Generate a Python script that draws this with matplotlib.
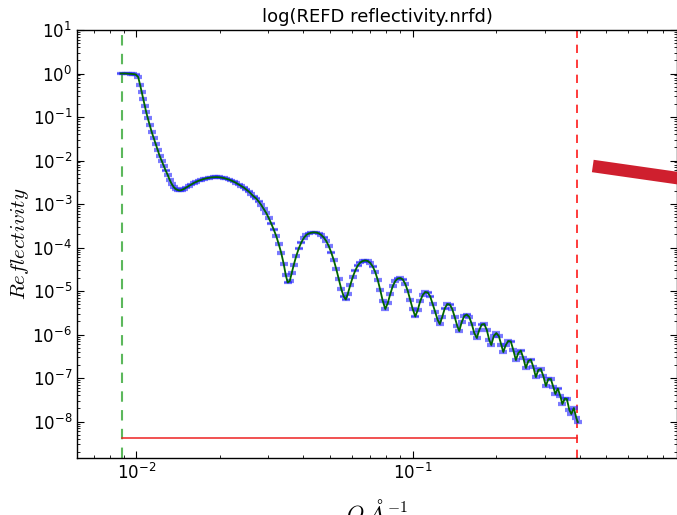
import matplotlib
matplotlib.use('Agg')
import matplotlib.pyplot as plt
from matplotlib.ticker import LogLocator
import numpy as np

# ---- data ----
q = [0.008774, 0.00896, 0.00915, 0.00934, 0.00954, 0.00974, 0.00994, 0.01015, 0.01032, 0.01045,
     0.01058, 0.01072, 0.01085, 0.01099, 0.01117, 0.01136, 0.01155, 0.01174, 0.01194, 0.01214,
     0.01235, 0.01255, 0.01276, 0.01298, 0.01320, 0.01342, 0.01364, 0.01387, 0.01411, 0.01434,
     0.01458, 0.01483, 0.01514, 0.01546, 0.01578, 0.01612, 0.01646, 0.01680, 0.01716, 0.01752,
     0.01788, 0.01826, 0.01864, 0.01904, 0.01944, 0.01984, 0.02026, 0.02069, 0.02112, 0.02157,
     0.02202, 0.02248, 0.02296, 0.02344, 0.02393, 0.02444, 0.02495, 0.02547, 0.02601, 0.02656,
     0.02711, 0.02768, 0.02827, 0.02886, 0.02947, 0.03009, 0.03072, 0.03137, 0.03202, 0.03270,
     0.03339, 0.03409, 0.03466, 0.03524, 0.03584, 0.03644, 0.03705, 0.03783, 0.03863, 0.03944,
     0.04027, 0.04111, 0.04198, 0.04286, 0.04376, 0.04468, 0.04562, 0.04658, 0.04756, 0.04856,
     0.04959, 0.05063, 0.05169, 0.05278, 0.05389, 0.05503, 0.05618, 0.05713, 0.05809, 0.05931,
     0.06056, 0.06183, 0.06313, 0.06446, 0.06581, 0.06720, 0.06861, 0.07006, 0.07153, 0.07303,
     0.07457, 0.07614, 0.07774, 0.07938, 0.08105, 0.08275, 0.08449, 0.08627, 0.08808, 0.08994,
     0.09183, 0.09376, 0.09573, 0.09774, 0.09975, 0.1019, 0.1040, 0.1062, 0.1084, 0.1107,
     0.1130, 0.1154, 0.1178, 0.1203, 0.1228, 0.1249, 0.1275, 0.1302, 0.1330, 0.1358,
     0.1386, 0.1415, 0.1445, 0.1469, 0.1500, 0.1532, 0.1564, 0.1597, 0.1631, 0.1665,
     0.1700, 0.1736, 0.1772, 0.1809, 0.1848, 0.1886, 0.1918, 0.1959, 0.2000, 0.2042,
     0.2085, 0.2120, 0.2164, 0.2210, 0.2257, 0.2304, 0.2353, 0.2402, 0.2453, 0.2504,
     0.2557, 0.2611, 0.2666, 0.2722, 0.2779, 0.2838, 0.2897, 0.2958, 0.3021, 0.3084,
     0.3149, 0.3215, 0.3269, 0.3338, 0.3408, 0.3466, 0.3539, 0.3598, 0.3674, 0.3735,
     0.3814, 0.3894, 0.3940]

r = [1.0, 1.0, 1.0, 0.99, 0.98, 0.97, 0.95, 0.83, 0.54, 0.376,
     0.26, 0.179, 0.130, 0.095, 0.0655, 0.0452, 0.0329, 0.0239, 0.0174, 0.0127,
     0.00974, 0.00748, 0.00589, 0.00464, 0.00356, 0.00288, 0.00246, 0.00221, 0.00210, 0.00204,
     0.00210, 0.00221, 0.00239, 0.00259, 0.00281, 0.00304, 0.00324, 0.00343, 0.00360, 0.00376,
     0.00390, 0.00400, 0.00409, 0.00413, 0.00415, 0.00413, 0.00406, 0.00396, 0.00382, 0.00366,
     0.00347, 0.00326, 0.00304, 0.00281, 0.00259, 0.00239, 0.00215, 0.00194, 0.00170, 0.00149,
     0.00134, 0.00114, 0.000948, 0.000767, 0.000621, 0.000477, 0.000356, 0.000259, 0.000184, 0.000120,
     7.48e-5, 4.18e-5, 2.33e-5, 1.57e-5, 1.70e-5, 2.59e-5, 3.96e-5, 6.38e-5, 9.48e-5, 0.000130,
     0.000165, 0.000194, 0.000210, 0.000219, 0.000223, 0.000221, 0.000212, 0.000194, 0.000170, 0.000141,
     0.000108, 7.67e-5, 5.16e-5, 3.21e-5, 1.89e-5, 1.11e-5, 7.48e-6, 6.38e-6, 8.53e-6, 1.37e-5,
     2.10e-5, 2.96e-5, 3.85e-5, 4.52e-5, 4.89e-5, 5.03e-5, 4.89e-5, 4.40e-5, 3.66e-5, 2.73e-5,
     1.79e-5, 1.05e-5, 5.89e-6, 3.85e-6, 5.30e-6, 8.53e-6, 1.30e-5, 1.70e-5, 1.94e-5, 1.99e-5,
     1.84e-5, 1.45e-5, 1.00e-5, 6.21e-6, 3.85e-6, 2.59e-6, 3.66e-6, 5.89e-6, 8.09e-6, 9.48e-6,
     9.24e-6, 7.48e-6, 5.02e-6, 3.29e-6, 2.15e-6, 1.74e-6, 2.52e-6, 3.96e-6, 5.02e-6, 4.89e-6,
     3.85e-6, 2.52e-6, 1.57e-6, 1.20e-6, 1.94e-6, 2.66e-6, 2.88e-6, 2.52e-6, 1.74e-6, 1.08e-6,
     8.31e-7, 1.27e-6, 1.70e-6, 1.74e-6, 1.27e-6, 7.48e-7, 5.74e-7, 9.24e-7, 1.08e-6, 9.24e-7,
     5.74e-7, 3.96e-7, 5.74e-7, 7.10e-7, 6.91e-7, 4.40e-7, 2.59e-7, 3.76e-7, 4.29e-7, 2.88e-7,
     1.70e-7, 2.46e-7, 2.66e-7, 1.79e-7, 1.05e-7, 1.53e-7, 1.61e-7, 1.11e-7, 6.55e-8, 9.48e-8,
     9.48e-8, 6.21e-8, 4.29e-8, 5.74e-8, 3.85e-8, 2.52e-8, 3.38e-8, 3.29e-8, 1.84e-8, 1.49e-8,
     2.04e-8, 1.20e-8, 9.75e-9]

rel_err = 0.04          # estimated relative error of the data points
q_min, q_max = 0.00885, 0.392
background = 4.2e-9
slope_q = [0.4465, 1.0]
slope_r = [0.00748, 0.00359]
title = "log(REFD reflectivity.nrfd)"

assert len(q) == len(r), (len(q), len(r))

plt.rcParams['font.family'] = 'DejaVu Sans'
plt.rcParams['mathtext.fontset'] = 'dejavusans'

fig = plt.figure(figsize=(6.77, 5.15), dpi=100)
ax = fig.add_axes([77/677, 57/515, 600/677, 428/515])

qa = np.array(q)
ra = np.array(r)
ax.errorbar(qa, ra, yerr=ra * rel_err, fmt='none', ecolor='#2a2aff', alpha=0.6,
            elinewidth=1.0, capsize=3.2, capthick=1.6, zorder=2)
ax.plot(qa, ra, color='#006400', lw=1.3, zorder=3)

ax.axvline(q_min, color='#5cb85c', ls='--', lw=1.5, dashes=(5, 4), zorder=1)
ax.axvline(q_max, color='#ff1a1a', ls='--', lw=1.2, dashes=(5, 4), zorder=1)
ax.plot([q_min, q_max], [background, background], color='#ee2222', lw=1.1, zorder=1)
ax.plot(slope_q, slope_r, color='#cf1f2e', lw=9, solid_capstyle='butt', zorder=4)

ax.set_xscale('log')
ax.set_yscale('log')
ax.set_xlim(0.0061, 0.90)
ax.set_ylim(1.45e-9, 10)
ax.yaxis.set_major_locator(LogLocator(base=10, numticks=30))
ax.yaxis.set_minor_locator(LogLocator(base=10, subs=np.arange(2, 10), numticks=30))

ax.tick_params(which='both', direction='in', top=True, right=True, labelsize=12)
ax.tick_params(which='major', length=5, width=0.8)
ax.tick_params(which='minor', length=2.5, width=0.6)
for s in ax.spines.values():
    s.set_linewidth(1.0)

ax.set_title(title, fontsize=13, pad=6)
ax.set_ylabel(r'$Reflectivity$', fontsize=15, labelpad=1, math_fontfamily='cm')
ax.set_xlabel(r'$Q\ \AA^{-1}$', fontsize=16, labelpad=10, math_fontfamily='cm')

fig.savefig('out.png', dpi=100)
